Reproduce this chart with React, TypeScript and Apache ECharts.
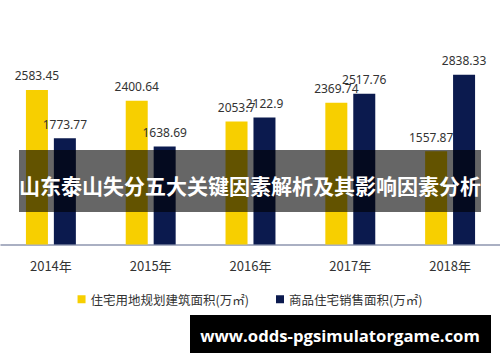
import React, { useEffect, useRef } from "react";
import * as echarts from "echarts";

const categories = ["2014年", "2015年", "2016年", "2017年", "2018年"];
const landArea = [2583.45, 2400.64, 2053.7, 2369.74, 1557.87];
const salesArea = [1773.77, 1638.69, 2122.9, 2517.76, 2838.33];
const seriesNames = ["住宅用地规划建筑面积(万㎡)", "商品住宅销售面积(万㎡)"];
const titleText = "山东泰山失分五大关键因素解析及其影响因素分析";
const watermarkText = "www.odds-pgsimulatorgame.com";

const LATIN = "'Noto Sans', 'Noto Sans CJK SC', sans-serif";
const CJK = "'Noto Sans CJK SC', 'Noto Sans', sans-serif";

export default function App() {
  const ref = useRef<HTMLDivElement>(null);
  useEffect(() => {
    if (!ref.current) return;
    const chart = echarts.init(ref.current, null, { renderer: "svg" });
    const labelCfg = {
      show: true,
      position: "top",
      distance: 8,
      color: "#333",
      fontSize: 12,
      fontFamily: LATIN,
    };
    const landData = landArea.map((v, i) =>
      i === landArea.length - 1 ? { value: v, label: { offset: [-5, 0] } } : v
    );
    chart.setOption({
      animation: false,
      backgroundColor: "#fff",
      grid: { left: 1, right: 0, top: 65, bottom: 117.5, containLabel: false },
      legend: {
        data: seriesNames,
        left: "center",
        top: 288,
        itemWidth: 8,
        itemHeight: 8,
        itemGap: 27,
        icon: "rect",
        textStyle: { fontSize: 12.5, color: "#333", fontFamily: CJK },
      },
      xAxis: {
        type: "category",
        data: categories,
        axisLine: { show: true, lineStyle: { color: "#8e96b0", width: 1.5 } },
        axisTick: { show: false },
        axisLabel: { color: "#333", fontSize: 13, margin: 14, fontFamily: CJK },
      },
      yAxis: {
        type: "value",
        min: 0,
        max: 3000,
        show: false,
        splitLine: { show: false },
      },
      series: [
        {
          name: seriesNames[0],
          type: "bar",
          data: landData,
          barWidth: 22,
          barGap: "27%",
          itemStyle: { color: "#f7cf00" },
          label: labelCfg,
        },
        {
          name: seriesNames[1],
          type: "bar",
          data: salesArea,
          barWidth: 22,
          itemStyle: { color: "#0b1a4e" },
          label: labelCfg,
        },
      ],
      graphic: [
        {
          type: "rect",
          shape: { x: 19, y: 150, width: 462, height: 62 },
          style: { fill: "rgba(0,0,0,0.6)" },
          z: 100,
        },
        {
          type: "text",
          x: 250,
          y: 185,
          style: {
            text: titleText,
            fill: "#fff",
            fontSize: 21,
            fontWeight: "bold",
            fontFamily: CJK,
            align: "center",
            verticalAlign: "middle",
          },
          z: 101,
        },
        {
          type: "rect",
          shape: { x: 190, y: 315, width: 301, height: 38 },
          style: { fill: "#000" },
          z: 100,
        },
        {
          type: "text",
          x: 340,
          y: 335,
          style: {
            text: watermarkText,
            fill: "#fff",
            fontSize: 16.7,
            fontWeight: "bold",
            fontFamily: "'Open Sans', sans-serif",
            align: "center",
            verticalAlign: "middle",
          },
          z: 101,
        },
      ],
    });
    return () => chart.dispose();
  }, []);
  return (
    <div
      ref={ref}
      style={{ position: "fixed", left: 0, top: 0, width: 500, height: 362 }}
    />
  );
}
